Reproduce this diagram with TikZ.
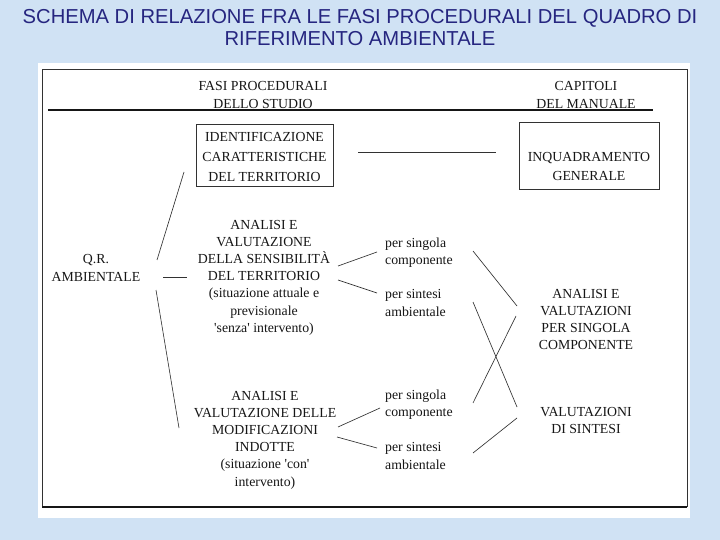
\documentclass[tikz,border=0pt]{standalone}
\usepackage{fontspec}
\usepackage{xcolor}
\usepackage{tikz}
\setmainfont{Liberation Serif}
\newfontfamily\titlefont{Liberation Sans}
\definecolor{paleblue}{RGB}{208,226,244}
\definecolor{titleblue}{RGB}{38,38,128}
\definecolor{inkgray}{RGB}{50,50,50}
\definecolor{printblack}{RGB}{22,22,22}

\begin{document}
\begin{tikzpicture}[x=1pt,y=-1pt,
    txt/.style={inner sep=0pt, align=center, text=printblack,
                font=\fontsize{13.8}{17.2}\selectfont},
    side/.style={txt, align=left, anchor=west},
    boxed/.style={draw=inkgray, line width=0.9pt, inner sep=0pt},
    link/.style={draw=inkgray, line width=0.65pt}]
      \useasboundingbox (0,0) rectangle (720,540);
      \fill[paleblue] (0,0) rectangle (720,540);
      \node[font=\titlefont\fontsize{20.2}{22}\selectfont, text=titleblue, align=center]
            (title) at (360,28) {SCHEMA DI RELAZIONE FRA LE FASI PROCEDURALI DEL QUADRO DI\\RIFERIMENTO AMBIENTALE};
      \fill[white] (38,63) rectangle (690,518);
      \draw[inkgray, line width=0.8pt] (42,507) -- (42,69) -- (687,69) -- (687,507);
      \draw[printblack, line width=1.6pt] (42,507) -- (687,507);
      \draw[printblack, line width=1.2pt] (48,110) -- (653,110);

      \node[txt] (fasi) at (263,95) {FASI PROCEDURALI\\DELLO STUDIO};
      \node[txt] (capitoli) at (586,95) {CAPITOLI\\DEL MANUALE};
      \node[boxed, minimum width=137pt, minimum height=62pt] (ident) at (264.5,155) {};
      \node[txt, font=\fontsize{13.8}{20}\selectfont] (identtxt) at (264.5,157)
            {IDENTIFICAZIONE\\CARATTERISTICHE\\DEL TERRITORIO};
      \node[boxed, minimum width=140pt, minimum height=67pt] (inq) at (589,155.5) {};
      \node[txt, font=\fontsize{13.8}{19}\selectfont] (inqtxt) at (589,166) {INQUADRAMENTO\\GENERALE};

      \node[txt] (qr) at (96,268) {Q.R.\\AMBIENTALE};
      \node[txt] (an1) at (264,277.5) {ANALISI E\\VALUTAZIONE\\DELLA SENSIBILITÀ\\DEL TERRITORIO\\(situazione attuale e\\previsionale\\\textquotesingle senza\textquotesingle{} intervento)};
      \node[side] (ps1) at (385,252.5) {per singola\\componente};
      \node[side] (ss1) at (385,303) {per sintesi\\ambientale};
      \node[txt] (avpsc) at (586,319.5) {ANALISI E\\VALUTAZIONI\\PER SINGOLA\\COMPONENTE};

      \node[txt] (an2) at (265,440) {ANALISI E\\VALUTAZIONE DELLE\\MODIFICAZIONI\\INDOTTE\\(situazione \textquotesingle con\textquotesingle\\intervento)};
      \node[side] (ps2) at (385,405) {per singola\\componente};
      \node[side] (ss2) at (385,456) {per sintesi\\ambientale};
      \node[txt] (vs) at (586,420.5) {VALUTAZIONI\\DI SINTESI};

      \coordinate (ident-l) at (184,172);
      \coordinate (ident-r) at (358,152);
      \coordinate (inq-l) at (496,152);
      \coordinate (qr-up) at (157,260);
      \coordinate (qr-mid) at (163,277);
      \coordinate (qr-dn) at (156,290);
      \coordinate (an1-l) at (187,277);
      \coordinate (an2-l) at (179,428);
      \coordinate (an1-up) at (338,266);
      \coordinate (an1-dn) at (338,280);
      \coordinate (an2-up) at (338,427);
      \coordinate (an2-dn) at (337,437);
      \coordinate (ps1-l) at (377,252);
      \coordinate (ss1-l) at (377,293);
      \coordinate (ps2-l) at (380,408);
      \coordinate (ss2-l) at (377,448);
      \coordinate (ps1-r) at (473,251);
      \coordinate (ss1-r) at (473,302);
      \coordinate (ps2-r) at (473,403);
      \coordinate (ss2-r) at (473,453);
      \coordinate (avpsc-up) at (517,306);
      \coordinate (avpsc-dn) at (516,316);
      \coordinate (vs-up) at (517,407);
      \coordinate (vs-dn) at (517,418);

      \draw[link] (ident-r) -- (inq-l);
      \draw[link] (qr-up) -- (ident-l);
      \draw[link] (qr-mid) -- (an1-l);
      \draw[link] (qr-dn) -- (an2-l);
      \draw[link] (an1-up) -- (ps1-l);
      \draw[link] (an1-dn) -- (ss1-l);
      \draw[link] (an2-up) -- (ps2-l);
      \draw[link] (an2-dn) -- (ss2-l);
      \draw[link] (ps1-r) -- (avpsc-up);
      \draw[link] (ss1-r) -- (vs-up);
      \draw[link] (ps2-r) -- (avpsc-dn);
      \draw[link] (ss2-r) -- (vs-dn);
\end{tikzpicture}
\end{document}
